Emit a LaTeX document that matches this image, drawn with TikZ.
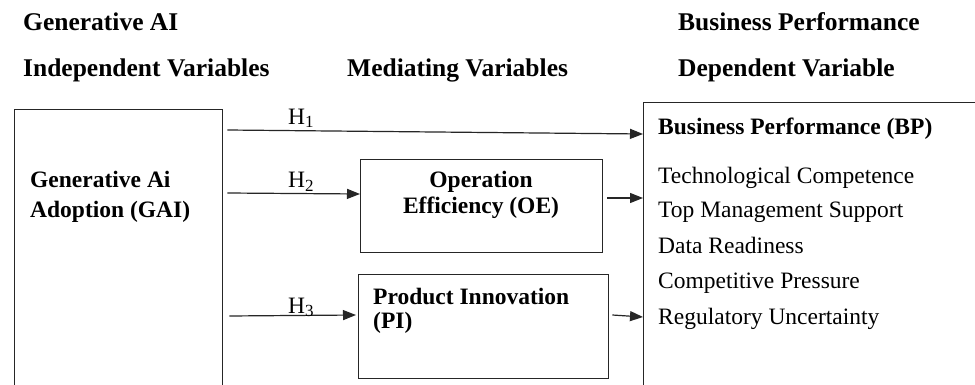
\documentclass[tikz,border=0pt]{standalone}
\usepackage{fontspec}
\setmainfont{Liberation Serif}
\usetikzlibrary{arrows.meta,calc}
\begin{document}
\begin{tikzpicture}[x=1pt,y=-1pt,
  head/.style={font=\fontsize{25.5}{30}\selectfont\bfseries, inner sep=0pt, anchor=base west},
  btxt/.style={font=\fontsize{23.5}{28}\selectfont\bfseries, inner sep=0pt, anchor=base west},
  rtxt/.style={font=\fontsize{23.5}{28}\selectfont, inner sep=0pt, anchor=base west},
  hlab/.style={font=\fontsize{23.5}{28}\selectfont, inner sep=0pt, anchor=base west},
  varbox/.style={draw=black!85, line width=1.3pt, inner sep=0pt, anchor=north west},
  conn/.style={draw=black!85, line width=1.2pt, -{Triangle[length=13pt,width=10pt]}}
]
\clip (0,0) rectangle (975,385);
\fill[white] (0,0) rectangle (975,385);

% headings
\node[head] (t1) at (23,31) {Generative AI};
\node[head] (t2) at (23,77) {Independent Variables};
\node[head] (t3) at (347,77) {Mediating Variables};
\node[head] (t4) at (678,31) {Business Performance};
\node[head] (t5) at (678,77) {Dependent Variable};

% boxes
\node[varbox, minimum width=208pt, minimum height=320pt] (gai) at (14,109) {};
\node[varbox, minimum width=242pt, minimum height=93pt] (oe) at (360,159) {};
\node[varbox, minimum width=250pt, minimum height=104pt] (pi) at (358,274) {};
\node[varbox, minimum width=420pt, minimum height=340pt] (bp) at (643,102) {};

% box texts
\node[btxt] (g1) at (30,188) {Generative Ai};
\node[btxt] (g2) at (30,218) {Adoption (GAI)};
\node[btxt, anchor=base] (o1) at (481,188) {Operation};
\node[btxt, anchor=base] (o2) at (481,214) {Efficiency (OE)};
\node[btxt] (p1) at (373,304) {Product Innovation};
\node[btxt] (p2) at (373,328) {(PI)};
\node[btxt] (b0) at (658,135) {Business Performance (BP)};
\node[rtxt] (b1) at (658,183) {Technological Competence};
\node[rtxt] (b2) at (658,218) {Top Management Support};
\node[rtxt] (b3) at (658,253) {Data Readiness};
\node[rtxt] (b4) at (658,288) {Competitive Pressure};
\node[rtxt] (b5) at (658,324) {Regulatory Uncertainty};

% connectors
\draw[conn] ($(gai.north east)+(4,21)$) -- ($(bp.north west)+(0,32)$);
\draw[conn] ($(gai.north east)+(4,84)$) -- ($(oe.north west)+(0,35)$);
\draw[conn] ($(gai.north east)+(6,207)$) -- ($(pi.north west)+(-2,41)$);
\draw[conn] ($(oe.north east)+(4,39)$) -- ($(bp.north west)+(0,96)$);
\draw[conn] ($(pi.north east)+(3,41)$) -- ($(bp.north west)+(0,215)$);

% hypothesis labels
\node[hlab] (l1) at (288,125) {H\raisebox{-3pt}{\fontsize{17}{17}\selectfont 1}};
\node[hlab] (l2) at (288,188) {H\raisebox{-3pt}{\fontsize{17}{17}\selectfont 2}};
\node[hlab] (l3) at (288,313) {H\raisebox{-3pt}{\fontsize{17}{17}\selectfont 3}};
\end{tikzpicture}
\end{document}
